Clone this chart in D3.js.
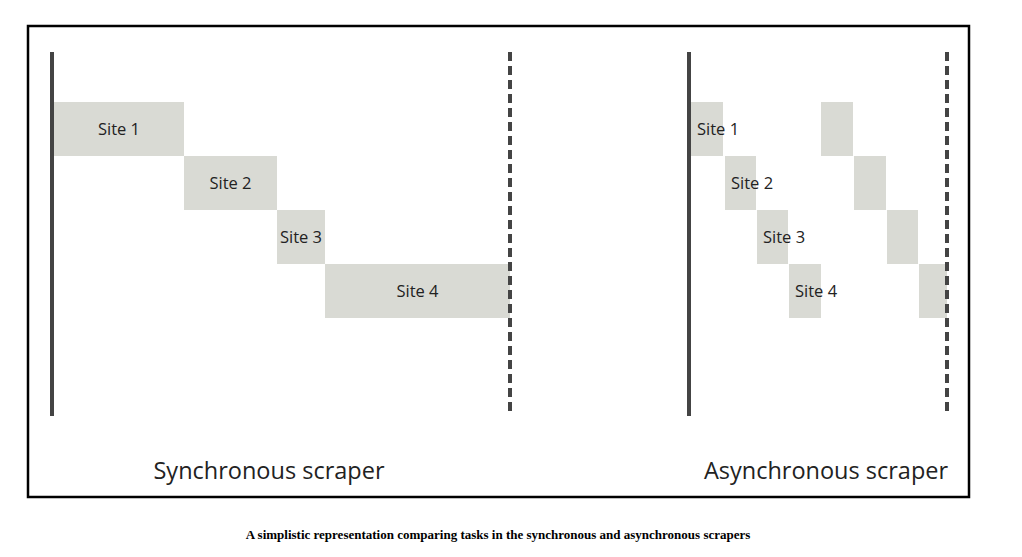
<!DOCTYPE html>
<html><head><meta charset="utf-8">
<script src="https://cdn.jsdelivr.net/npm/d3@7"></script>
<style>body{margin:0;background:#fff}</style>
</head><body><div id="chart"></div>
<script>
// sites and task time spans (arbitrary time units)
var sites = ['Site 1','Site 2','Site 3','Site 4'];
var syncStart = [0, 130, 223, 271];
var syncEnd = [130, 223, 271, 456];
var asyncSendStart = [0, 34, 66, 98];
var asyncSendEnd = [32, 65, 97, 130];
var asyncRecvStart = [130, 163, 196, 228];
var asyncRecvEnd = [162, 195, 227, 256];
var titles = ['Synchronous scraper', 'Asynchronous scraper'];
var caption = 'A simplistic representation comparing tasks in the synchronous and asynchronous scrapers';

var svg = d3.select('#chart').append('svg').attr('width',1022).attr('height',557);
svg.append('rect').attr('x',28).attr('y',26).attr('width',941).attr('height',471)
  .style('fill','none').style('stroke','#000').style('stroke-width',2.5);

var y = d3.scaleBand().domain(sites).range([102,318]).padding(0);
var font = "'Open Sans', Lato, sans-serif";

function panel(x0, x1, tmax, spans, title, titleX, centred){
  var x = d3.scaleLinear().domain([0,tmax]).range([x0,x1]);
  var g = svg.append('g');
  spans.forEach(function(s){
    g.append('rect').attr('x',x(s.a)).attr('y',y(s.site))
      .attr('width',x(s.b)-x(s.a)).attr('height',y.bandwidth())
      .style('fill','#d9dad4');
  });
  spans.filter(function(s){return s.label;}).forEach(function(s){
    g.append('text').attr('x',centred ? (x(s.a)+x(s.b))/2 : x(s.a)+6)
      .attr('y',y(s.site)+y.bandwidth()/2+6)
      .attr('text-anchor',centred ? 'middle' : 'start')
      .style('font-family',font).style('font-size','16.5px')
      .style('fill','#222').text(s.site);
  });
  g.append('line').attr('x1',x0-2).attr('x2',x0-2).attr('y1',52).attr('y2',416)
    .style('stroke','#444').style('stroke-width',4);
  g.append('line').attr('x1',x1).attr('x2',x1).attr('y1',52).attr('y2',412)
    .style('stroke','#444').style('stroke-width',4).style('stroke-dasharray','9,5');
  g.append('text').attr('x',titleX).attr('y',479).attr('text-anchor','middle')
    .style('font-family',font).style('font-size','23.5px').style('fill','#222').text(title);
}

var syncSpans = sites.map(function(s,i){return {site:s,a:syncStart[i],b:syncEnd[i],label:true};});
panel(54, 510, 456, syncSpans, titles[0], 269, true);

var asyncSpans = [];
sites.forEach(function(s,i){
  asyncSpans.push({site:s,a:asyncSendStart[i],b:asyncSendEnd[i],label:true});
  asyncSpans.push({site:s,a:asyncRecvStart[i],b:asyncRecvEnd[i],label:false});
});
panel(691, 947, 256, asyncSpans, titles[1], 826, false);

svg.append('text').attr('x',498).attr('y',539).attr('text-anchor','middle')
  .style('font-family',"'Liberation Serif', serif").style('font-size','13px')
  .style('font-weight','bold').text(caption);
</script></body></html>
